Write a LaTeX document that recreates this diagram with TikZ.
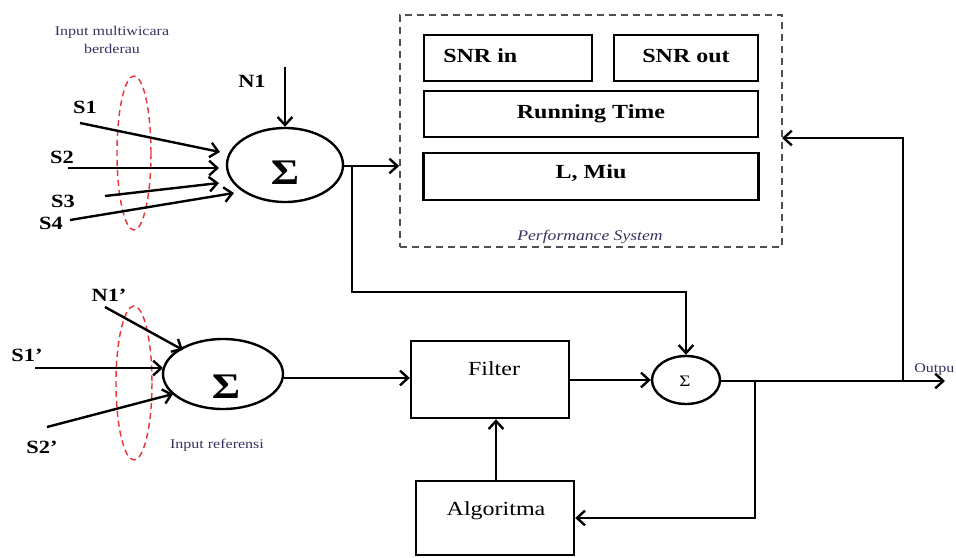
\documentclass[tikz,border=0pt]{standalone}
\usepackage{fontspec}
\setmainfont{Liberation Serif}[FakeStretch=1.2]
\usetikzlibrary{shapes.geometric,arrows.meta,calc}
\definecolor{lblc}{HTML}{3A3060}
\definecolor{dgray}{HTML}{505050}
\definecolor{rdash}{HTML}{E8383D}
\begin{document}
\begin{tikzpicture}[x=0.75pt,y=-0.75pt,
  ln/.style={line width=1.8pt},
  arr/.style={ln,-{Straight Barb[length=6pt,width=11pt]}},
  box/.style={draw,ln,rectangle,inner sep=0pt},
  sig/.style={draw,ln,ellipse,inner sep=0pt},
  reddash/.style={draw=rdash,line width=1.1pt,dash pattern=on 4.5pt off 3pt},
  perfbox/.style={draw=dgray,line width=1.3pt,dash pattern=on 5.5pt off 3.5pt,rectangle,inner sep=0pt},
  txt/.style={font=\fontsize{15}{18}\selectfont,anchor=base,inner sep=0pt},
  btxt/.style={font=\fontsize{15}{18}\selectfont\bfseries,anchor=base,inner sep=0pt},
  lab/.style={font=\fontsize{14}{16}\selectfont\bfseries,anchor=base,inner sep=0pt},
  small/.style={font=\fontsize{10}{12}\selectfont,text=lblc,anchor=base,inner sep=0pt},
  bigsig/.style={font=\fontsize{27}{30}\selectfont\bfseries,anchor=base,inner sep=0pt}
]
\useasboundingbox (0,0) rectangle (956,557);

% performance system
\node[perfbox,minimum width=382*0.75pt,minimum height=232*0.75pt] (perf) at (591,131) {};
\node[box,minimum width=168*0.75pt,minimum height=46*0.75pt] (snrin) at (508,58) {};
\node[box,minimum width=144*0.75pt,minimum height=46*0.75pt] (snrout) at (686,58) {};
\node[box,minimum width=334*0.75pt,minimum height=46*0.75pt] (running) at (591,114) {};
\node[box,minimum width=335*0.75pt,minimum height=47*0.75pt] (lmiu) at (591,176.5) {};
\node[btxt,anchor=base west] (snrintxt) at (443,62) {SNR in};
\node[btxt] (snrouttxt) at (686,62) {SNR out};
\node[btxt] (runtxt) at (591,118) {Running Time};
\node[btxt] (lmiutxt) at (591,178) {L, Miu};
\node[small,font=\fontsize{11}{13}\selectfont\itshape] (perftxt) at (590,240) {Performance System};

% top summation
\node[sig,minimum width=116*0.75pt,minimum height=74*0.75pt] (sigA) at (285,165) {};
\node[bigsig] (sigAtxt) at (285,184) {Σ};
\node[small] (inmul1) at (112,35) {Input multiwicara};
\node[small] (inmul2) at (112,53) {berderau};
\draw[reddash] (134,153) ellipse [x radius=17, y radius=77];
\node[lab] (n1lab) at (252,87) {N1};
\node[lab] (s1lab) at (85,113) {S1};
\node[lab] (s2lab) at (62,163) {S2};
\node[lab] (s3lab) at (63,207) {S3};
\node[lab] (s4lab) at (51,229) {S4};
\coordinate (n1s) at (285,67);
\coordinate (s1s) at (80,123);
\coordinate (s2s) at (68,168);
\coordinate (s3s) at (105,196);
\coordinate (s4s) at (70,220);
\coordinate (s1e) at (220,152);
\coordinate (s2e) at (219,168);
\coordinate (s3e) at (219,183);
\coordinate (s4e) at (234,193);
\draw[arr] (n1s) -- (sigA.north);
\draw[arr] (s1s) -- (s1e);
\draw[arr] (s2s) -- (s2e);
\draw[arr] (s3s) -- (s3e);
\draw[arr] (s4s) -- (s4e);

% bottom summation
\node[sig,minimum width=120*0.75pt,minimum height=70*0.75pt] (sigB) at (223,374) {};
\node[bigsig] (sigBtxt) at (226,398) {Σ};
\draw[reddash] (134,383) ellipse [x radius=18, y radius=77];
\node[lab] (n1plab) at (109,301) {N1'};
\node[lab] (s1plab) at (27,361) {S1'};
\node[lab] (s2plab) at (42,453) {S2'};
\node[small] (inref) at (217,448) {Input referensi};
\coordinate (n1ps) at (105,307);
\coordinate (s1ps) at (35,368);
\coordinate (s2ps) at (47,427);
\coordinate (n1pe) at (183,350);
\coordinate (s1pe) at (163,368);
\coordinate (s2pe) at (173,394);
\draw[arr] (n1ps) -- (n1pe);
\draw[arr] (s1ps) -- (s1pe);
\draw[arr] (s2ps) -- (s2pe);

% filter, small sum, algorithm
\node[box,minimum width=158*0.75pt,minimum height=77*0.75pt] (filter) at (490,379.5) {};
\node[txt] (filtertxt) at (494,375) {Filter};
\node[sig,minimum width=68*0.75pt,minimum height=48*0.75pt] (sigC) at (686,380) {};
\node[font=\fontsize{12}{14}\selectfont,anchor=base,inner sep=0pt] (sigCtxt) at (685,386) {Σ};
\node[box,minimum width=158*0.75pt,minimum height=74*0.75pt] (algo) at (495,518) {};
\node[txt] (algotxt) at (496,515) {Algoritma};
\node[small,anchor=base west] (outtxt) at (914,372) {Outpu};

% connectors
\coordinate (j1) at (352,166);
\coordinate (j2) at (352,292);
\coordinate (jb) at (755,381);
\coordinate (fb) at (903,381);
\coordinate (fbtop) at (782,138);
\coordinate (outend) at (945,381);
\draw[arr] (sigA.east |- j1) -- (j1 -| perf.west);
\draw[arr] (j1) -- (j2) -| (sigC.north);
\draw[arr] (sigB.east |- 0,378) -- (filter.west |- 0,378);
\draw[arr] (filter.east |- sigC) -- (sigC.west);
\draw[arr] (sigC.east |- outend) -- (outend);
\draw[arr] (jb) |- (algo.east);
\draw[arr] (algo.north -| 496,0) -- (496,0 |- filter.south);
\draw[arr] (fb) |- (fbtop);
\end{tikzpicture}
\end{document}
